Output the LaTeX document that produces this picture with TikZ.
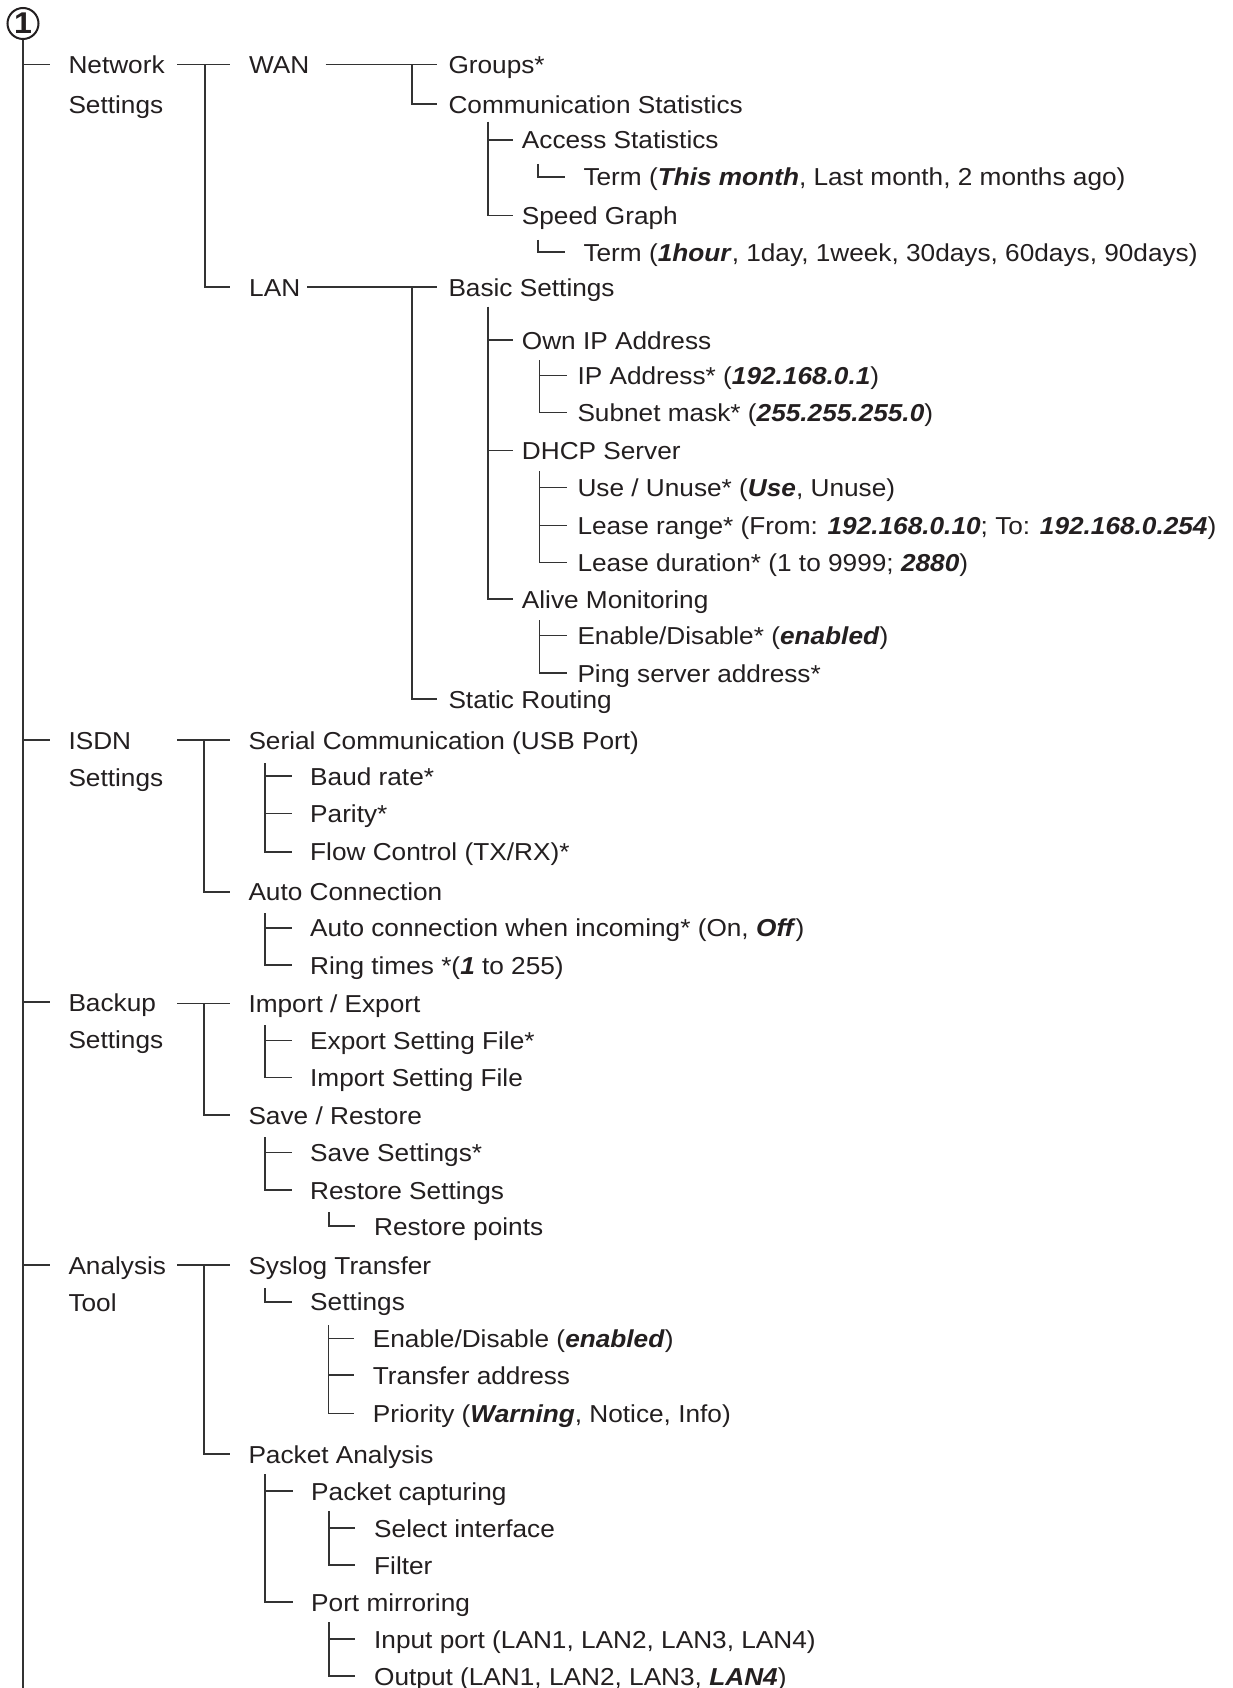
\documentclass[tikz,border=0pt]{standalone}
\usepackage{fontspec}
\setmainfont{Liberation Sans}[FakeStretch=1.07]
\usetikzlibrary{calc}
\definecolor{txt}{HTML}{231F20}
\definecolor{lc}{HTML}{333333}
\newcommand\bi[1]{\textbf{\textit{#1}}}
\newcommand\fs{\fontsize{24.5}{29}\selectfont}
% tick from bus (#1) to node #2, ending #3pt before its text
\newcommand\tk[3]{\draw[ln] (#1 |- #2.west) -- ([xshift=-#3pt]#2.west);}
% last branch: from bus top coordinate (#1) down, then right to node #2
\newcommand\lk[3]{\draw[ln] (#1) |- ([xshift=-#3pt]#2.west);}
\begin{document}
\begin{tikzpicture}[x=1pt,y=-1pt,
  lbl/.style={anchor=west, inner sep=0pt, text height=23pt, text depth=5pt, font=\fs, text=txt},
  ln/.style={draw=lc, line width=1.6pt},
]
\useasboundingbox[fill=white] (0,0) rectangle (1232,1688);

% root
\node[circle, draw=txt, line width=2pt, minimum size=31pt, inner sep=0pt,
      font=\bfseries\fontsize{30}{30}\selectfont, text=txt] (one) at (23,23.5) {1};
\coordinate (rootend) at (23,1688);
\draw[ln] (one.south) -- (rootend);
\coordinate (lb) at (177,0);

% ---------------- Network Settings
\node[lbl] (net)  at (68.3,64.5) {Network};
\node[lbl] (net2) at (68.3,104.3) {Settings};
\node[lbl] (wan)  at (249,64.5) {WAN};
\node[lbl] (lan)  at (249,287) {LAN};
\node[lbl] (groups) at (448.3,64.5) {Groups*};
\node[lbl] (comm) at (448.3,104.3) {Communication Statistics};
\node[lbl] (access) at (521.7,140) {Access Statistics};
\node[lbl] (term1) at (583.3,177) {Term (\bi{This month}, Last month, 2 months ago)};
\node[lbl] (speed) at (521.7,215.7) {Speed Graph};
\node[lbl] (term2) at (583.3,252.3) {Term (\bi{1hour}, 1day, 1week, 30days, 60days, 90days)};
\node[lbl] (basic) at (448.3,287) {Basic Settings};
\node[lbl] (ownip) at (521.7,340) {Own IP Address};
\node[lbl] (ipaddr) at (577.3,375.5) {IP Address* (\bi{192.168.0.1})};
\node[lbl] (subnet) at (577.3,412.5) {Subnet mask* (\bi{255.255.255.0})};
\node[lbl] (dhcp) at (521.7,450.5) {DHCP Server};
\node[lbl] (use) at (577.3,487.5) {Use / Unuse* (\bi{Use}, Unuse)};
\node[lbl] (lease) at (577.3,525.5) {Lease range* (From: \bi{192.168.0.10}; To: \bi{192.168.0.254})};
\node[lbl] (dur) at (577.3,562.5) {Lease duration* (1 to 9999; \bi{2880})};
\node[lbl] (alive) at (521.7,599) {Alive Monitoring};
\node[lbl] (enable) at (577.3,635.5) {Enable/Disable* (\bi{enabled})};
\node[lbl] (ping) at (577.3,673) {Ping server address*};
\node[lbl] (static) at (448.3,699) {Static Routing};

\tk{one}{net}{18.3}
\draw[ln] (lb |- net.west) -- ([xshift=-19pt]wan.west);
\coordinate (bA) at (205,64.5);
\lk{bA}{lan}{19}
\draw[ln] ([xshift=16pt]wan.east) -- ([xshift=-11.6pt]groups.west);
\coordinate (bB) at (411.7,64.5);
\lk{bB}{comm}{11.6}
\coordinate (bC) at (487.7,121.7);
\tk{bC}{access}{8.4}
\lk{bC}{speed}{8.4}
\coordinate (bD) at (537.7,164);
\lk{bD}{term1}{18.3}
\coordinate (bE) at (537.7,240);
\lk{bE}{term2}{18.3}
\draw[ln] ([xshift=7pt]lan.east) -- ([xshift=-11.6pt]basic.west);
\coordinate (bF) at (411.7,287);
\lk{bF}{static}{11.6}
\coordinate (bG) at (487.7,306.7);
\tk{bG}{ownip}{8.4}
\tk{bG}{dhcp}{8.4}
\lk{bG}{alive}{8.4}
\coordinate (bH) at (539.3,360);
\tk{bH}{ipaddr}{10.6}
\lk{bH}{subnet}{10.6}
\coordinate (bI) at (539.3,471);
\tk{bI}{use}{10.6}
\tk{bI}{lease}{10.6}
\lk{bI}{dur}{10.6}
\coordinate (bJ) at (539.3,620);
\tk{bJ}{enable}{10.6}
\lk{bJ}{ping}{10.6}

% ---------------- ISDN Settings
\node[lbl] (isdn) at (68.3,740) {ISDN};
\node[lbl] (isdn2) at (68.3,777) {Settings};
\node[lbl] (serial) at (248.3,740) {Serial Communication (USB Port)};
\node[lbl] (baud) at (310,776) {Baud rate*};
\node[lbl] (parity) at (310,813.3) {Parity*};
\node[lbl] (flow) at (310,851.7) {Flow Control (TX/RX)*};
\node[lbl] (autoc) at (248.3,891.7) {Auto Connection};
\node[lbl] (autoin) at (310,927.7) {Auto connection when incoming* (On, \bi{Off})};
\node[lbl] (ring) at (310,965) {Ring times *(\bi{1} to 255)};

\tk{one}{isdn}{18.3}
\draw[ln] (lb |- isdn.west) -- ([xshift=-18.3pt]serial.west);
\coordinate (bK) at (204,740);
\lk{bK}{autoc}{18.3}
\coordinate (bL) at (265,763.3);
\tk{bL}{baud}{18.3}
\tk{bL}{parity}{18.3}
\lk{bL}{flow}{18.3}
\coordinate (bM) at (265,913.3);
\tk{bM}{autoin}{18.3}
\lk{bM}{ring}{18.3}

% ---------------- Backup Settings
\node[lbl] (backup) at (68.3,1002) {Backup};
\node[lbl] (backup2) at (68.3,1039) {Settings};
\node[lbl] (impexp) at (248.3,1003.5) {Import / Export};
\node[lbl] (export) at (310,1040.5) {Export Setting File*};
\node[lbl] (import) at (310,1077.5) {Import Setting File};
\node[lbl] (saverest) at (248.3,1115) {Save / Restore};
\node[lbl] (saveset) at (310,1152.5) {Save Settings*};
\node[lbl] (restset) at (310,1190) {Restore Settings};
\node[lbl] (restpts) at (374,1226) {Restore points};

\tk{one}{backup}{18.3}
\draw[ln] (lb |- impexp.west) -- ([xshift=-18.3pt]impexp.west);
\coordinate (bN) at (204,1003.5);
\lk{bN}{saverest}{18.3}
\coordinate (bO) at (265,1025);
\tk{bO}{export}{18.3}
\lk{bO}{import}{18.3}
\coordinate (bP) at (265,1137);
\tk{bP}{saveset}{18.3}
\lk{bP}{restset}{18.3}
\coordinate (bQ) at (329,1212);
\lk{bQ}{restpts}{19}

% ---------------- Analysis Tool
\node[lbl] (analysis) at (68.3,1265) {Analysis};
\node[lbl] (tool) at (68.3,1302) {Tool};
\node[lbl] (syslog) at (248.3,1265) {Syslog Transfer};
\node[lbl] (settings) at (310,1301.7) {Settings};
\node[lbl] (endis) at (372.7,1338.3) {Enable/Disable (\bi{enabled})};
\node[lbl] (transfer) at (372.7,1375) {Transfer address};
\node[lbl] (priority) at (372.7,1413.3) {Priority (\bi{Warning}, Notice, Info)};
\node[lbl] (packet) at (248.3,1454) {Packet Analysis};
\node[lbl] (capt) at (311,1491) {Packet capturing};
\node[lbl] (select) at (374,1528) {Select interface};
\node[lbl] (filter) at (374,1565) {Filter};
\node[lbl] (mirror) at (311,1602) {Port mirroring};
\node[lbl] (input) at (374,1639) {Input port (LAN1, LAN2, LAN3, LAN4)};
\node[lbl] (output) at (374,1676) {Output (LAN1, LAN2, LAN3, \bi{LAN4})};

\tk{one}{analysis}{18.3}
\draw[ln] (lb |- syslog.west) -- ([xshift=-18.3pt]syslog.west);
\coordinate (bR) at (204,1265);
\lk{bR}{packet}{18.3}
\coordinate (bS) at (265,1288.3);
\lk{bS}{settings}{18.3}
\coordinate (bT) at (328.3,1325);
\tk{bT}{endis}{18.7}
\tk{bT}{transfer}{18.7}
\lk{bT}{priority}{18.7}
\coordinate (bU) at (265,1474);
\tk{bU}{capt}{18.3}
\lk{bU}{mirror}{18.3}
\coordinate (bV) at (329,1511);
\tk{bV}{select}{19}
\lk{bV}{filter}{19}
\coordinate (bW) at (329,1622);
\tk{bW}{input}{19}
\lk{bW}{output}{19}
\end{tikzpicture}
\end{document}
